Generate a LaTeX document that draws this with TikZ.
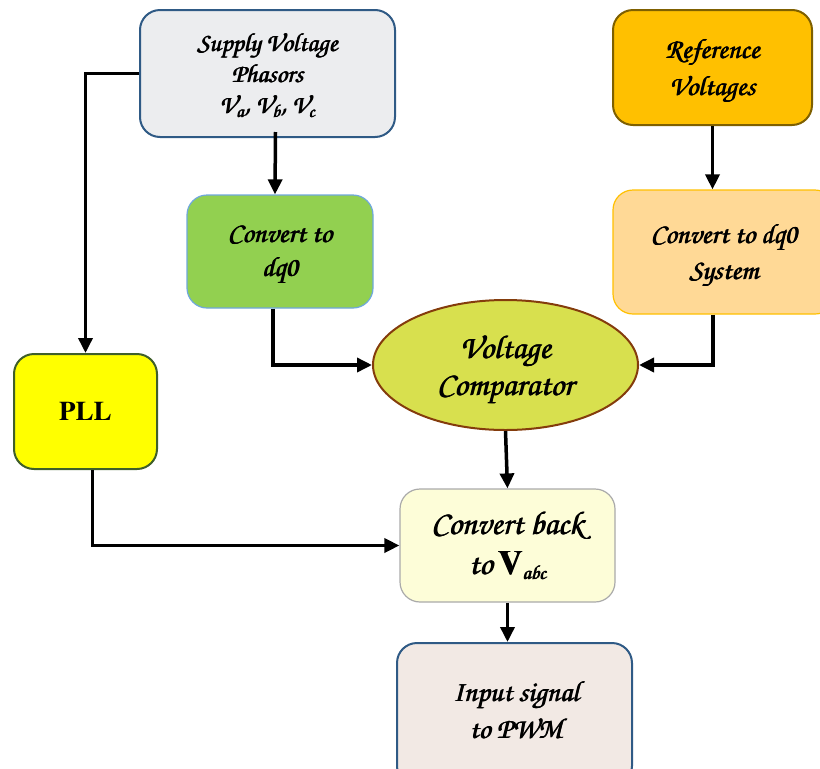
\documentclass[tikz,border=0pt]{standalone}
\usepackage[T1,TU]{fontenc}
\usetikzlibrary{arrows.meta,shapes.geometric}
\newcommand\chan{\fontencoding{T1}\fontfamily{pzc}\fontseries{mb}\fontshape{it}\selectfont}
\newcommand\tms{\fontencoding{T1}\fontfamily{ptm}\fontseries{b}\fontshape{n}\selectfont}
\newcommand\fb[1]{\leavevmode\rlap{#1}\hspace{0.45pt}\rlap{#1}\hspace{0.45pt}#1}
\definecolor{supfill}{HTML}{ECEDEF}
\definecolor{blueedge}{HTML}{2F5A85}
\definecolor{reffill}{HTML}{FFC000}
\definecolor{refedge}{HTML}{7F6000}
\definecolor{grnfill}{HTML}{92D050}
\definecolor{grnedge}{HTML}{6FA8DC}
\definecolor{csfill}{HTML}{FFD996}
\definecolor{csedge}{HTML}{FFC000}
\definecolor{cmpfill}{HTML}{D8E04E}
\definecolor{cmpedge}{HTML}{843C0C}
\definecolor{pllfill}{HTML}{FFFF00}
\definecolor{plledge}{HTML}{3F5F2A}
\definecolor{cbfill}{HTML}{FDFDD8}
\definecolor{cbedge}{HTML}{AAAAAA}
\definecolor{inpfill}{HTML}{F2E9E4}
\tikzset{
  blk/.style={draw, line width=2pt, rounded corners=20pt, align=center, inner sep=0pt},
  lbl/.style={align=center, inner sep=0pt},
  arr/.style={line width=3.5pt, -{Triangle[length=15pt,width=14pt]}},
}
\begin{document}
\begin{tikzpicture}[x=1pt,y=-1pt]
\useasboundingbox (0,0) rectangle (820,769);
\node[blk, fill=supfill, draw=blueedge, minimum width=255pt, minimum height=127pt,
  label={[lbl, yshift=-2pt, font=\chan\fontsize{26}{31}\selectfont]center:{\fb{Supply Voltage}\\ \fb{Phasors}\\ \fb{V\textsubscript{a}, V\textsubscript{b}, V\textsubscript{c}}}}] (sup) at (267.5,73.5) {};
\node[blk, fill=reffill, draw=refedge, minimum width=199pt, minimum height=115pt,
  label={[lbl, yshift=-4pt, font=\chan\fontsize{28}{37}\selectfont]center:{\fb{Reference}\\ \fb{Voltages}}}] (ref) at (712.5,67.5) {};
\node[blk, fill=grnfill, draw=grnedge, line width=1.2pt, minimum width=186pt, minimum height=113pt,
  label={[lbl, yshift=-4pt, font=\chan\fontsize{28}{34}\selectfont]center:{\fb{Convert to}\\ \fb{dq0}}}] (grn) at (280,251.5) {};
\node[blk, fill=csfill, draw=csedge, line width=1.2pt, minimum width=222pt, minimum height=124pt,
  label={[lbl, yshift=-4pt, font=\chan\fontsize{28}{36}\selectfont]center:{\fb{Convert to dq0}\\ \fb{System}}}] (cs) at (724,252) {};
\node[ellipse, draw=cmpedge, fill=cmpfill, line width=2pt, minimum width=265pt, minimum height=130pt, inner sep=0pt,
  label={[lbl, yshift=-5pt, font=\chan\fontsize{33}{37}\selectfont]center:{\fb{Voltage}\\ \fb{Comparator}}}] (cmp) at (505.5,365) {};
\node[blk, fill=pllfill, draw=plledge, minimum width=143pt, minimum height=115pt,
  font=\tms\fontsize{27}{30}\selectfont] (pll) at (85.5,411.5)
  {PLL};
\node[blk, fill=cbfill, draw=cbedge, line width=1.2pt, minimum width=215pt, minimum height=113pt,
  label={[lbl, yshift=0pt, font=\chan\fontsize{33}{40}\selectfont]center:{\fb{Convert back}\\ \fb{to\,{\tms\fontsize{34}{40}\selectfont V}{\fontsize{20}{20}\selectfont\raisebox{-5pt}{abc}}}}}] (cb) at (507.5,545.5) {};
\node[blk, fill=inpfill, draw=blueedge, minimum width=235pt, minimum height=143pt, anchor=north] (inp) at (514.5,642) {};
\node[lbl, font=\chan\fontsize{29}{37}\selectfont] (inptext) at (516,710) {\fb{Input signal}\\ \fb{to PWM}};
% connectors
\draw[arr] (sup.west) -| (pll.north);
\draw[arr] ([xshift=8pt,yshift=6pt]sup.south) -- ([xshift=-5pt]grn.north);
\draw[arr] ([xshift=-7pt]grn.south) |- (cmp.west);
\draw[arr] (ref.south) -- (ref.south |- cs.north);
\draw[arr] ([xshift=-11pt]cs.south) |- (cmp.east);
\draw[arr] (cmp.south) -- (cb.north);
\draw[arr] ([xshift=7pt]pll.south) |- (cb.west);
\draw[arr] (cb.south) -- (cb.south |- inp.north);
\end{tikzpicture}
\end{document}
